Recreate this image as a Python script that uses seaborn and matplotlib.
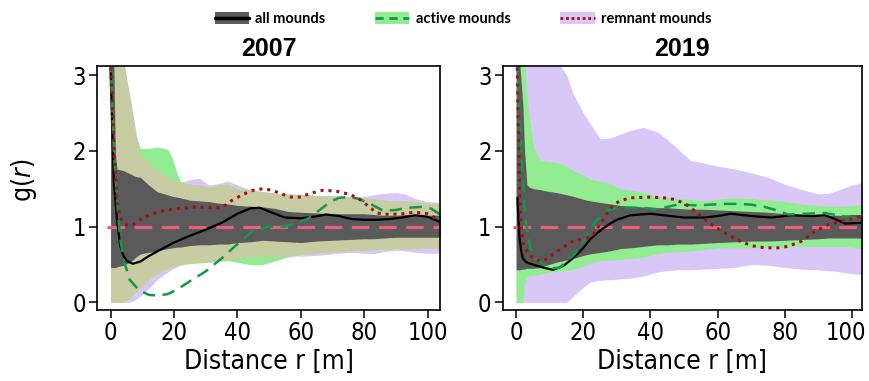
import numpy as np
import matplotlib
matplotlib.use('Agg')
import matplotlib.pyplot as plt
import matplotlib.transforms as mtransforms
from matplotlib import font_manager as fm
from matplotlib.patches import Patch
from matplotlib.lines import Line2D
import seaborn as sns

# ---- 2007: observed g(r) curves ----
r07_all = [0, 0.5, 1, 2, 3, 4, 5, 7, 9.4, 12, 15, 20, 25, 30, 35, 40, 44, 47, 50, 55, 60, 64, 68, 72, 76, 80, 84, 88, 92, 96, 100, 104]
g07_all = [3.05, 2.3, 1.6, 1.1, 0.75, 0.62, 0.55, 0.51, 0.54, 0.61, 0.68, 0.79, 0.88, 0.96, 1.05, 1.17, 1.24, 1.25, 1.2, 1.12, 1.11, 1.13, 1.16, 1.14, 1.1, 1.09, 1.09, 1.1, 1.12, 1.15, 1.13, 1.06]

r07_act = [0, 0.5, 1, 2, 3, 4, 6, 9, 12, 15, 18, 21, 25, 30, 35, 40, 45, 50, 55, 58, 62, 66, 69, 72, 75, 78, 82, 86, 90, 94, 98, 101, 104]
g07_act = [3.2, 2.6, 2.0, 1.35, 0.85, 0.58, 0.3, 0.16, 0.1, 0.09, 0.11, 0.17, 0.28, 0.41, 0.58, 0.77, 0.95, 1.0, 1.0, 1.04, 1.1, 1.22, 1.32, 1.38, 1.39, 1.37, 1.3, 1.21, 1.22, 1.25, 1.26, 1.24, 1.16]

r07_rem = [0, 0.5, 1, 2, 3, 4, 6, 8, 10, 14, 18, 22, 27, 32, 35, 38, 42, 45, 48, 51, 54, 57, 60, 63, 67, 71, 75, 78, 81, 84, 88, 92, 96, 100, 104]
g07_rem = [3.1, 2.6, 2.1, 1.35, 1.12, 1.05, 1.01, 1.05, 1.11, 1.18, 1.22, 1.24, 1.26, 1.25, 1.25, 1.34, 1.43, 1.48, 1.5, 1.48, 1.43, 1.39, 1.39, 1.44, 1.48, 1.47, 1.43, 1.38, 1.28, 1.18, 1.16, 1.17, 1.19, 1.17, 1.08]

# ---- 2007: simulation envelopes ----
r07_env = [0, 1, 1.5, 2, 4, 6, 7, 8, 9.4, 12, 14.7, 18, 19.5, 21, 22, 25, 28, 31, 34, 37, 40, 44, 48, 52, 56, 60, 65, 70, 75, 80, 83, 86, 90, 93, 96, 100, 104]
all07_hi = [3.2, 3.2, 1.95, 1.76, 1.74, 1.7, 1.68, 1.66, 1.65, 1.55, 1.46, 1.42, 1.4, 1.39, 1.38, 1.35, 1.34, 1.33, 1.31, 1.3, 1.28, 1.27, 1.26, 1.24, 1.2, 1.19, 1.18, 1.17, 1.17, 1.17, 1.16, 1.15, 1.15, 1.16, 1.15, 1.15, 1.15]
all07_lo = [0.46, 0.46, 0.46, 0.47, 0.49, 0.53, 0.56, 0.6, 0.64, 0.66, 0.68, 0.71, 0.72, 0.73, 0.73, 0.75, 0.76, 0.76, 0.77, 0.77, 0.79, 0.8, 0.82, 0.81, 0.8, 0.79, 0.81, 0.82, 0.83, 0.84, 0.84, 0.85, 0.86, 0.86, 0.86, 0.86, 0.86]
act07_hi = [3.2, 3.2, 3.2, 3.2, 3.2, 2.7, 2.45, 2.2, 2.03, 2.03, 2.05, 2.02, 1.9, 1.7, 1.6, 1.56, 1.55, 1.52, 1.55, 1.56, 1.5, 1.48, 1.46, 1.44, 1.43, 1.42, 1.41, 1.4, 1.39, 1.38, 1.37, 1.35, 1.34, 1.34, 1.33, 1.31, 1.3]
act07_lo = [0.0, 0.0, 0.0, 0.0, 0.0, 0.05, 0.1, 0.14, 0.2, 0.3, 0.38, 0.45, 0.47, 0.49, 0.5, 0.51, 0.52, 0.53, 0.54, 0.55, 0.53, 0.5, 0.5, 0.55, 0.6, 0.63, 0.65, 0.67, 0.68, 0.69, 0.7, 0.7, 0.71, 0.71, 0.71, 0.72, 0.72]
rem07_hi = [3.2, 3.2, 3.2, 3.2, 3.2, 2.75, 2.5, 2.25, 1.94, 1.85, 1.75, 1.66, 1.62, 1.6, 1.58, 1.62, 1.64, 1.55, 1.57, 1.6, 1.55, 1.49, 1.46, 1.44, 1.43, 1.43, 1.41, 1.41, 1.4, 1.4, 1.42, 1.44, 1.45, 1.43, 1.37, 1.33, 1.32]
rem07_lo = [0.0, 0.0, 0.0, 0.0, 0.0, 0.0, 0.02, 0.04, 0.08, 0.18, 0.3, 0.4, 0.44, 0.47, 0.49, 0.52, 0.53, 0.54, 0.55, 0.56, 0.58, 0.6, 0.61, 0.6, 0.62, 0.61, 0.62, 0.64, 0.66, 0.65, 0.64, 0.67, 0.69, 0.68, 0.66, 0.65, 0.65]

# ---- 2019: observed g(r) curves ----
r19_all = [0.4, 0.5, 1, 1.5, 2, 3, 5, 8, 11, 14, 16, 18, 20, 22, 24, 26, 28, 30, 34, 40, 44, 50, 56, 60, 64, 70, 76, 82, 88, 92, 95, 98, 103]
g19_all = [1.38, 1.25, 0.85, 0.68, 0.58, 0.53, 0.5, 0.46, 0.43, 0.48, 0.55, 0.63, 0.72, 0.83, 0.91, 0.98, 1.04, 1.09, 1.15, 1.17, 1.15, 1.12, 1.12, 1.14, 1.17, 1.14, 1.12, 1.15, 1.14, 1.15, 1.1, 1.04, 1.05]

r19_act = [0.3, 1, 1.7, 2.7, 4.2, 5.5, 7, 9, 11, 13, 15, 17, 19, 21, 23, 25, 27, 30, 33, 37, 42, 45, 48, 54, 58, 62, 66, 70, 74, 78, 81, 86, 92, 97, 103]
g19_act = [3.2, 2.6, 1.87, 1.12, 0.72, 0.6, 0.54, 0.48, 0.45, 0.46, 0.54, 0.62, 0.72, 0.88, 1.03, 1.13, 1.21, 1.25, 1.25, 1.25, 1.23, 1.26, 1.29, 1.28, 1.29, 1.3, 1.3, 1.29, 1.26, 1.21, 1.16, 1.17, 1.18, 1.14, 1.09]

r19_rem = [0.3, 0.5, 1, 1.5, 2.2, 3.5, 5, 8, 12, 17, 21, 23, 25, 27, 29, 31, 34, 40, 44, 47, 50, 52, 55, 58, 62, 66, 70, 74, 78, 81, 85, 89, 93, 97, 103]
g19_rem = [3.1, 2.7, 1.45, 1.0, 0.76, 0.65, 0.58, 0.54, 0.67, 0.81, 0.85, 0.9, 1.03, 1.17, 1.29, 1.34, 1.38, 1.39, 1.38, 1.36, 1.31, 1.25, 1.14, 1.03, 0.92, 0.82, 0.75, 0.72, 0.72, 0.74, 0.81, 0.94, 1.03, 1.07, 1.14]

# ---- 2019: simulation envelopes ----
r19_env = [0, 1, 2, 2.5, 3.2, 4, 5.2, 7, 9, 12, 15, 17, 20, 22, 25, 28, 31, 34, 38, 42, 45, 48, 52, 56, 60, 65, 70, 75, 80, 85, 90, 93, 97, 100, 103]
all19_hi = [3.2, 3.2, 2.6, 2.0, 1.55, 1.52, 1.5, 1.49, 1.47, 1.45, 1.42, 1.4, 1.36, 1.34, 1.32, 1.3, 1.28, 1.27, 1.26, 1.25, 1.25, 1.24, 1.23, 1.23, 1.22, 1.21, 1.2, 1.19, 1.17, 1.16, 1.15, 1.15, 1.15, 1.16, 1.16]
all19_lo = [0.43, 0.43, 0.44, 0.44, 0.45, 0.45, 0.45, 0.46, 0.49, 0.53, 0.56, 0.58, 0.62, 0.64, 0.66, 0.68, 0.71, 0.72, 0.74, 0.76, 0.76, 0.77, 0.77, 0.78, 0.79, 0.8, 0.81, 0.81, 0.82, 0.83, 0.84, 0.85, 0.85, 0.85, 0.85]
act19_hi = [3.2, 3.2, 3.2, 3.2, 2.75, 2.4, 2.05, 1.88, 1.86, 1.85, 1.8, 1.74, 1.68, 1.63, 1.6, 1.57, 1.5, 1.48, 1.45, 1.4, 1.38, 1.37, 1.36, 1.34, 1.36, 1.38, 1.37, 1.35, 1.33, 1.3, 1.28, 1.27, 1.27, 1.28, 1.29]
act19_lo = [0.0, 0.0, 0.0, 0.25, 0.33, 0.35, 0.36, 0.37, 0.39, 0.41, 0.42, 0.44, 0.48, 0.52, 0.55, 0.56, 0.57, 0.58, 0.6, 0.64, 0.66, 0.67, 0.68, 0.7, 0.72, 0.72, 0.72, 0.73, 0.73, 0.74, 0.74, 0.74, 0.74, 0.73, 0.71]
rem19_hi = [3.2, 3.2, 3.2, 3.2, 3.2, 3.2, 3.2, 3.2, 3.2, 3.2, 3.0, 2.75, 2.5, 2.36, 2.16, 2.17, 2.22, 2.27, 2.31, 2.25, 2.15, 2.03, 1.87, 1.84, 1.8, 1.76, 1.71, 1.65, 1.56, 1.49, 1.43, 1.44, 1.5, 1.55, 1.58]
rem19_lo = [0.0, 0.0, 0.0, 0.0, 0.0, 0.0, 0.0, 0.0, 0.0, 0.0, 0.0, 0.08, 0.2, 0.27, 0.29, 0.3, 0.31, 0.32, 0.35, 0.4, 0.42, 0.43, 0.43, 0.44, 0.45, 0.46, 0.5, 0.49, 0.46, 0.44, 0.43, 0.42, 0.4, 0.38, 0.37]

x_ticks = [0, 20, 40, 60, 80, 100]
y_ticks = [0, 1, 2, 3]

# colours
C_GRAY = '#5a5a5a'
C_GRN = '#92ec92'
C_PUR = '#d9c7f7'
C_OLIVE = '#c8cca2'
C_GLINE = '#16964a'
C_RED = '#a50f15'
C_PINK = '#e8607c'

# the reference uses a narrow sans; pick one if the machine has it
installed = {(f.name, f.stretch) for f in fm.fontManager.ttflist}
if any(n == 'Liberation Sans Narrow' for n, _ in installed):
    AX_FONT, AX_STRETCH, AX_SIZE, TICK_SIZE = 'Liberation Sans Narrow', 'normal', 21, 19
elif ('DejaVu Sans', 'condensed') in installed or ('DejaVu Sans', 'semi-condensed') in installed:
    AX_FONT, AX_STRETCH, AX_SIZE, TICK_SIZE = 'DejaVu Sans', 'condensed', 19, 17
else:
    AX_FONT, AX_STRETCH, AX_SIZE, TICK_SIZE = 'Liberation Sans', 'normal', 18, 16

sns.set_theme(style='ticks')
plt.rcParams['font.family'] = [AX_FONT, 'DejaVu Sans']
plt.rcParams['font.stretch'] = AX_STRETCH
plt.rcParams['text.color'] = 'black'
plt.rcParams['axes.labelcolor'] = 'black'
plt.rcParams['xtick.color'] = 'black'
plt.rcParams['ytick.color'] = 'black'
plt.rcParams['mathtext.fontset'] = 'custom'
plt.rcParams['mathtext.rm'] = AX_FONT
plt.rcParams['mathtext.it'] = AX_FONT + ':italic'

fig = plt.figure(figsize=(8.69, 3.81), dpi=100)
ax1 = fig.add_axes([0.1116, 0.1864, 0.3947, 0.6404])
ax2 = fig.add_axes([0.5785, 0.1864, 0.4131, 0.6404])


def draw_panel(ax, title, r_env, a_lo, a_hi, c_lo, c_hi, m_lo, m_hi,
               r_a, g_a, r_c, g_c, r_m, g_m, xlim, overlap):
    ax.fill_between(r_env, m_lo, m_hi, color=C_PUR, lw=0)
    ax.fill_between(r_env, c_lo, c_hi, color=C_GRN, lw=0)
    if overlap:
        # in 2007 the two envelopes overlap and show as olive
        ax.fill_between(r_env, np.maximum(c_lo, m_lo), np.minimum(c_hi, m_hi),
                        color=C_OLIVE, lw=0)
    ax.fill_between(r_env, a_lo, a_hi, color=C_GRAY, lw=0)
    ax.hlines(1, -1, 105, color=C_PINK, lw=2.3, linestyles=(0, (5.5, 3)))

    sns.lineplot(x=r_a, y=g_a, ax=ax, color='black', lw=1.6)
    sns.lineplot(x=r_c, y=g_c, ax=ax, color=C_GLINE, lw=1.8, linestyle=(0, (5, 3)))
    sns.lineplot(x=r_m, y=g_m, ax=ax, color=C_RED, lw=2.2, linestyle=(0, (1, 1.6)))

    ax.set_xlim(*xlim)
    ax.set_ylim(-0.1, 3.12)
    ax.set_xticks(x_ticks)
    ax.set_yticks(y_ticks)
    ax.tick_params(direction='out', length=6, width=1.1, color='black',
                   labelcolor='black', labelsize=TICK_SIZE, pad=2)
    for sp in ax.spines.values():
        sp.set_color('black')
        sp.set_linewidth(1.2)
        sp.set_visible(True)
    ax.set_title(title, family='Liberation Sans', fontstretch='normal',
                 fontweight='bold', fontsize=18, pad=7)
    ax.set_xlabel('Distance r [m]', fontsize=AX_SIZE, labelpad=3)
    ax.set_ylabel('')
    ax.grid(False)


draw_panel(ax1, '2007', r07_env, all07_lo, all07_hi, act07_lo, act07_hi, rem07_lo, rem07_hi,
           r07_all, g07_all, r07_act, g07_act, r07_rem, g07_rem, (-4.3, 103.9), True)
draw_panel(ax2, '2019', r19_env, all19_lo, all19_hi, act19_lo, act19_hi, rem19_lo, rem19_hi,
           r19_all, g19_all, r19_act, g19_act, r19_rem, g19_rem, (-4.0, 102.9), False)

# keep the last "100" label of the right panel inside the figure edge
last_lab = ax2.get_xticklabels()[-1]
last_lab.set_transform(last_lab.get_transform() +
                       mtransforms.ScaledTranslation(-6 / 100, 0, fig.dpi_scale_trans))

ax1.set_ylabel(r'g($\mathit{r}$)', fontsize=AX_SIZE)
ax1.yaxis.set_label_coords(-0.17, 0.53)

handles = [
    (Patch(facecolor=C_GRAY, lw=0), Line2D([], [], color='black', lw=2.5)),
    (Patch(facecolor=C_GRN, lw=0), Line2D([], [], color=C_GLINE, lw=2, linestyle=(0, (3, 2)))),
    (Patch(facecolor=C_PUR, lw=0), Line2D([], [], color=C_RED, lw=2, linestyle=(0, (1, 1)))),
]
fig.legend(handles, ['all mounds', 'active mounds', 'remnant mounds'],
           loc='center', bbox_to_anchor=(0.533, 0.95), ncol=3, frameon=False,
           prop={'family': 'Lato', 'weight': 'bold', 'size': 10.5, 'stretch': 'normal'},
           handlelength=2.35, handleheight=0.8, handletextpad=0.45, columnspacing=3.4)

fig.savefig('out.png', dpi=100)
